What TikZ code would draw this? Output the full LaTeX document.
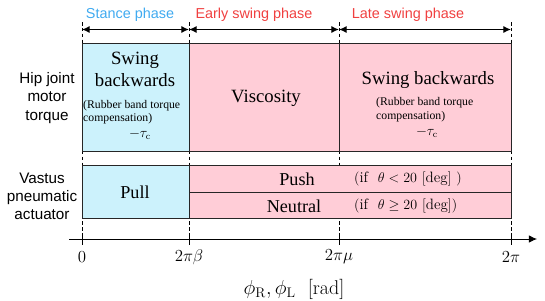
\documentclass[tikz,border=0pt]{standalone}
\usepackage{fontspec}
\setsansfont{Liberation Sans}
\newfontfamily\timesfont{Liberation Serif}
\usetikzlibrary{arrows.meta, positioning, calc}
\definecolor{stancefill}{RGB}{204,242,252}
\definecolor{swingfill}{RGB}{255,205,215}
\definecolor{stancetext}{RGB}{64,170,240}
\definecolor{swingtext}{RGB}{240,64,64}

\begin{document}
\begin{tikzpicture}[
    x=0.03cm, y=-0.03cm,
    cell/.style={draw=black!85, line width=0.6pt},
    guide/.style={dash pattern=on 3pt off 2pt, line width=0.6pt},
    span/.style={line width=1pt, {Latex[length=6.5pt, width=6pt]}-{Latex[length=6.5pt, width=6pt]}},
    phase/.style={font=\sffamily\fontsize{12.3}{14}\selectfont},
    rowlabel/.style={font=\sffamily\fontsize{13}{15.5}\selectfont, align=center},
    big/.style={font=\timesfont\fontsize{16}{18.8}\selectfont, align=center},
    cmd/.style={font=\timesfont\fontsize{15.5}{18}\selectfont},
    note/.style={font=\timesfont\fontsize{10}{11.5}\selectfont, align=left, inner sep=0pt},
    taulab/.style={font=\fontsize{12}{14}\selectfont, inner sep=0pt},
    cond/.style={font=\fontsize{12.8}{14}\selectfont, anchor=west, inner sep=0pt},
    ticklab/.style={font=\fontsize{15}{18}\selectfont}
  ]
  \useasboundingbox (0,0) rectangle (545,300);

  % Phase borders
  \coordinate (p0) at (82,29.5);
  \coordinate (p1) at (189,29.5);
  \coordinate (p2) at (339,29.5);
  \coordinate (p3) at (511,29.5);
  \foreach \xx in {82,189,339,511}
    \draw[guide] (\xx,22) -- (\xx,239);

  % Phases
  \draw[span] (p0) -- (p1);
  \draw[span] (p1) -- (p2);
  \draw[span] (p2) -- (p3);
  \node[phase, text=stancetext] (stance) at (130,15) {Stance phase};
  \node[phase, text=swingtext] (early) at (254,15) {Early swing phase};
  \node[phase, text=swingtext] (late) at (408,15) {Late swing phase};

  % Hip joint row
  \draw[cell, fill=stancefill] (82,43) rectangle (189,151);
  \draw[cell, fill=swingfill] (189,43) rectangle (511,151);
  \draw[cell, line width=0.4pt] (339,43) -- (339,151);
  \node[rowlabel] (hip) at (47,98) {Hip joint\\motor\\torque};
  \node[big] (swingA) at (135,69) {Swing\\backwards};
  \node[note, anchor=west] (rubberA) at (83,112) {(Rubber band torque\\compensation)};
  \node[taulab] (tauA) at (140,134) {$-\tau_{\mathrm{c}}$};
  \node[big] (visc) at (266,98) {Viscosity};
  \node[big] (swingB) at (428,80) {Swing backwards};
  \node[note, anchor=west] (rubberB) at (376,109.5) {(Rubber band torque\\compensation)};
  \node[taulab] (tauB) at (427,132) {$-\tau_{\mathrm{c}}$};

  % Vastus row
  \draw[cell, fill=stancefill] (82,165) rectangle (189,218);
  \draw[cell, fill=swingfill] (189,165) rectangle (511,218);
  \draw[cell] (189,192) -- (511,192);
  \node[rowlabel] (vastus) at (42,196) {Vastus\\pneumatic\\actuator};
  \node[cmd] (pull) at (135,192) {Pull};
  \node[cmd] (push) at (297,179) {Push};
  \node[cmd] (neutral) at (294,206) {Neutral};
  \node[cond] (condA) at (354,179) {$(\mathrm{if}\ \ \theta<20\ [\mathrm{deg}]\ )$};
  \node[cond] (condB) at (354,206) {$(\mathrm{if}\ \ \theta\geq20\ [\mathrm{deg}])$};

  % Axis
  \coordinate (axL) at (69,239);
  \coordinate (axR) at (537,239);
  \draw[line width=0.7pt, -{Latex[length=7pt, width=6.5pt]}] (axL) -- (axR);
  \foreach \xx/\lab in {82/0, 189/2\pi\beta, 339/2\pi\mu, 511/2\pi} {
    \draw[line width=0.8pt] (\xx,234) -- (\xx,245);
    \node[ticklab] (tick\xx) at (\xx,257) {$\lab$};
  }
  \node[font=\fontsize{17}{20}\selectfont] (axlabel) at (294,289) {$\phi_{\mathrm{R}}, \phi_{\mathrm{L}}\ \ [\mathrm{rad}]$};
\end{tikzpicture}
\end{document}
